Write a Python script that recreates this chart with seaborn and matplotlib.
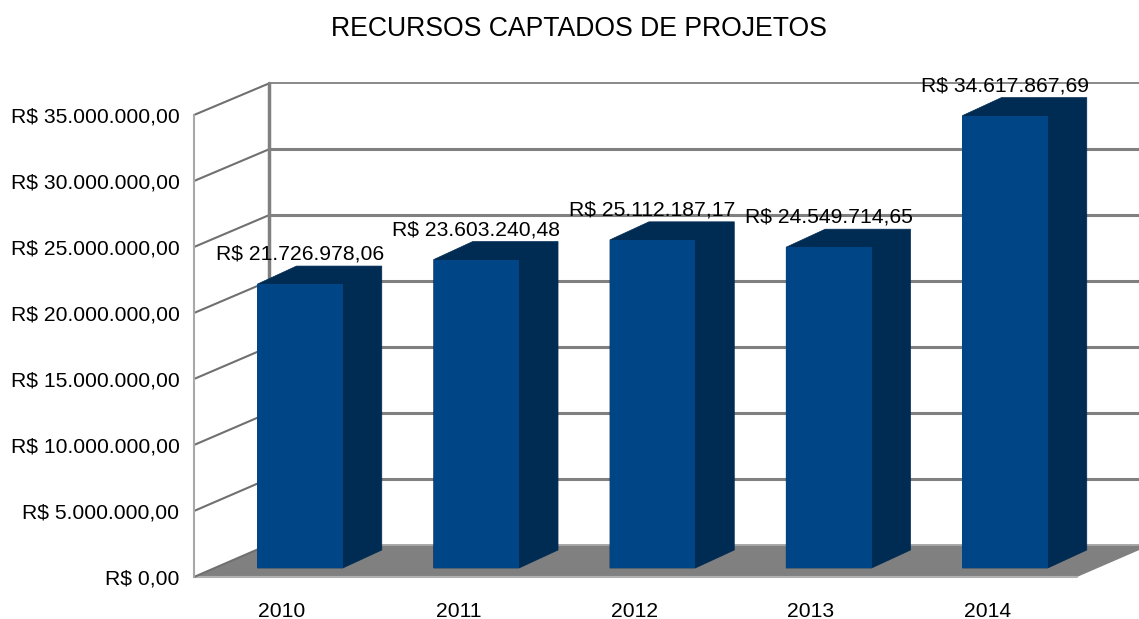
import matplotlib
matplotlib.use('Agg')
import matplotlib.pyplot as plt
import seaborn as sns
from matplotlib.lines import Line2D
from matplotlib.patches import Polygon
from matplotlib.transforms import Affine2D, IdentityTransform

years = ['2010', '2011', '2012', '2013', '2014']
values = [21726978.06, 23603240.48, 25112187.17, 24549714.65, 34617867.69]
ticks = [0, 5000000, 10000000, 15000000, 20000000, 25000000, 30000000, 35000000]
title = 'RECURSOS CAPTADOS DE PROJETOS'

FRONT = '#004586'
DARK = '#002b53'
GRID = '#808080'
XMAX = 4.51


def brl(v):
    # 1234567.89 -> R$ 1.234.567,89
    s = f'{v:,.2f}'.replace(',', 'X').replace('.', ',').replace('X', '.')
    return f'R$ {s}'


sns.set_style('white')
plt.rcParams['font.family'] = ['Liberation Sans', 'DejaVu Sans']

W, H = 1139, 619
fig = plt.figure(figsize=(W / 100, H / 100), dpi=100)
# axes = front plane of the fake 3D box
ax = fig.add_axes([194 / W, (H - 577) / H, (1077 - 194) / W, (577 - 115) / H])
ax.patch.set_visible(False)

sns.barplot(x=years, y=values, color=FRONT, saturation=1, width=0.484, ax=ax, zorder=5)
ax.set_xlim(-0.5, XMAX)
ax.set_ylim(0, 35000000)
ax.set_yticks(ticks)
ax.set_yticklabels([brl(t) for t in ticks], fontsize=15.2, color='black')
ax.tick_params(axis='y', length=0, pad=10.5)
ax.tick_params(axis='x', length=0, pad=18, labelsize=15.2, colors='black')
ax.set_xlabel('')
ax.set_ylabel('')
sns.despine(ax=ax, left=True, bottom=True)
ax.grid(False)

y0 = ax.transData.transform((0, 0))[1]


def plane(dx, dy, s=1.0):
    # data coords pushed back into the depth of the box (offsets in pixels)
    return ax.transData + Affine2D().translate(0, -y0).scale(1, s).translate(dx, y0 + dy)


back = plane(75, 32.5, 0.998)
bar_front = plane(18, 9, 0.99)
bar_back = plane(57, 27, 0.99)
px = IdentityTransform()


def disp(tr, x, y):
    return tuple(tr.transform((x, y)))


# floor
floor = [disp(ax.transData, -0.5, 0), disp(ax.transData, XMAX, 0),
         disp(back, XMAX, 0), disp(back, -0.5, 0)]
ax.add_patch(Polygon(floor, closed=True, facecolor=GRID, edgecolor='none',
                     transform=px, clip_on=False, zorder=1))
ax.add_line(Line2D([floor[0][0], floor[1][0]], [floor[0][1], floor[1][1]], color='#b0b0b0',
                   lw=1.5, transform=px, clip_on=False, zorder=1.5))

# back wall and left wall lines
for i, t in enumerate(ticks):
    a, b = disp(back, -0.5, t), disp(back, XMAX, t)
    c = disp(ax.transData, -0.5, t)
    lw = 2.2 if 0 < i < len(ticks) - 1 else 1.3
    col = '#a8a8a8' if i == 0 else GRID
    ax.add_line(Line2D([a[0], b[0]], [a[1], b[1]], color=col, lw=lw,
                       transform=px, clip_on=False, zorder=2))
    ax.add_line(Line2D([c[0], a[0]], [c[1], a[1]], color='#707070', lw=1.5,
                       transform=px, clip_on=False, zorder=2))

a, b = disp(back, -0.5, 0), disp(back, -0.5, ticks[-1])
ax.add_line(Line2D([a[0], b[0]], [a[1], b[1]], color=GRID, lw=2.5,
                   transform=px, clip_on=False, zorder=2))
a, b = disp(ax.transData, -0.5, 0), disp(ax.transData, -0.5, ticks[-1])
ax.add_line(Line2D([a[0], b[0]], [a[1], b[1]], color='#a8a8a8', lw=1.5,
                   transform=px, clip_on=False, zorder=2))

# bars: front comes from seaborn, side and top are built from each bar
for bar, v in zip(ax.patches[:len(values)], values):
    x0, x1 = bar.get_x(), bar.get_x() + bar.get_width()
    bar.set_transform(bar_front)
    bar.set_clip_on(False)
    bar.set_linewidth(0)
    side = [disp(bar_front, x0, 0), disp(bar_front, x1, 0), disp(bar_back, x1, 0),
            disp(bar_back, x1, v), disp(bar_back, x0, v), disp(bar_front, x0, v)]
    ax.add_patch(Polygon(side, closed=True, facecolor=DARK, edgecolor=DARK, lw=0.5,
                         joinstyle='round', transform=px, clip_on=False, zorder=4))
    cx, top = disp(bar_front, (x0 + x1) / 2, v)
    ax.text(cx, top + 30, brl(v), transform=px, ha='center', va='center',
            fontsize=15.2, color='black', zorder=6)

fig.text(579 / W, (H - 29) / H, title, ha='center', va='center', fontsize=19.2, color='black')

plt.savefig('out.png', dpi=100)
plt.close()
